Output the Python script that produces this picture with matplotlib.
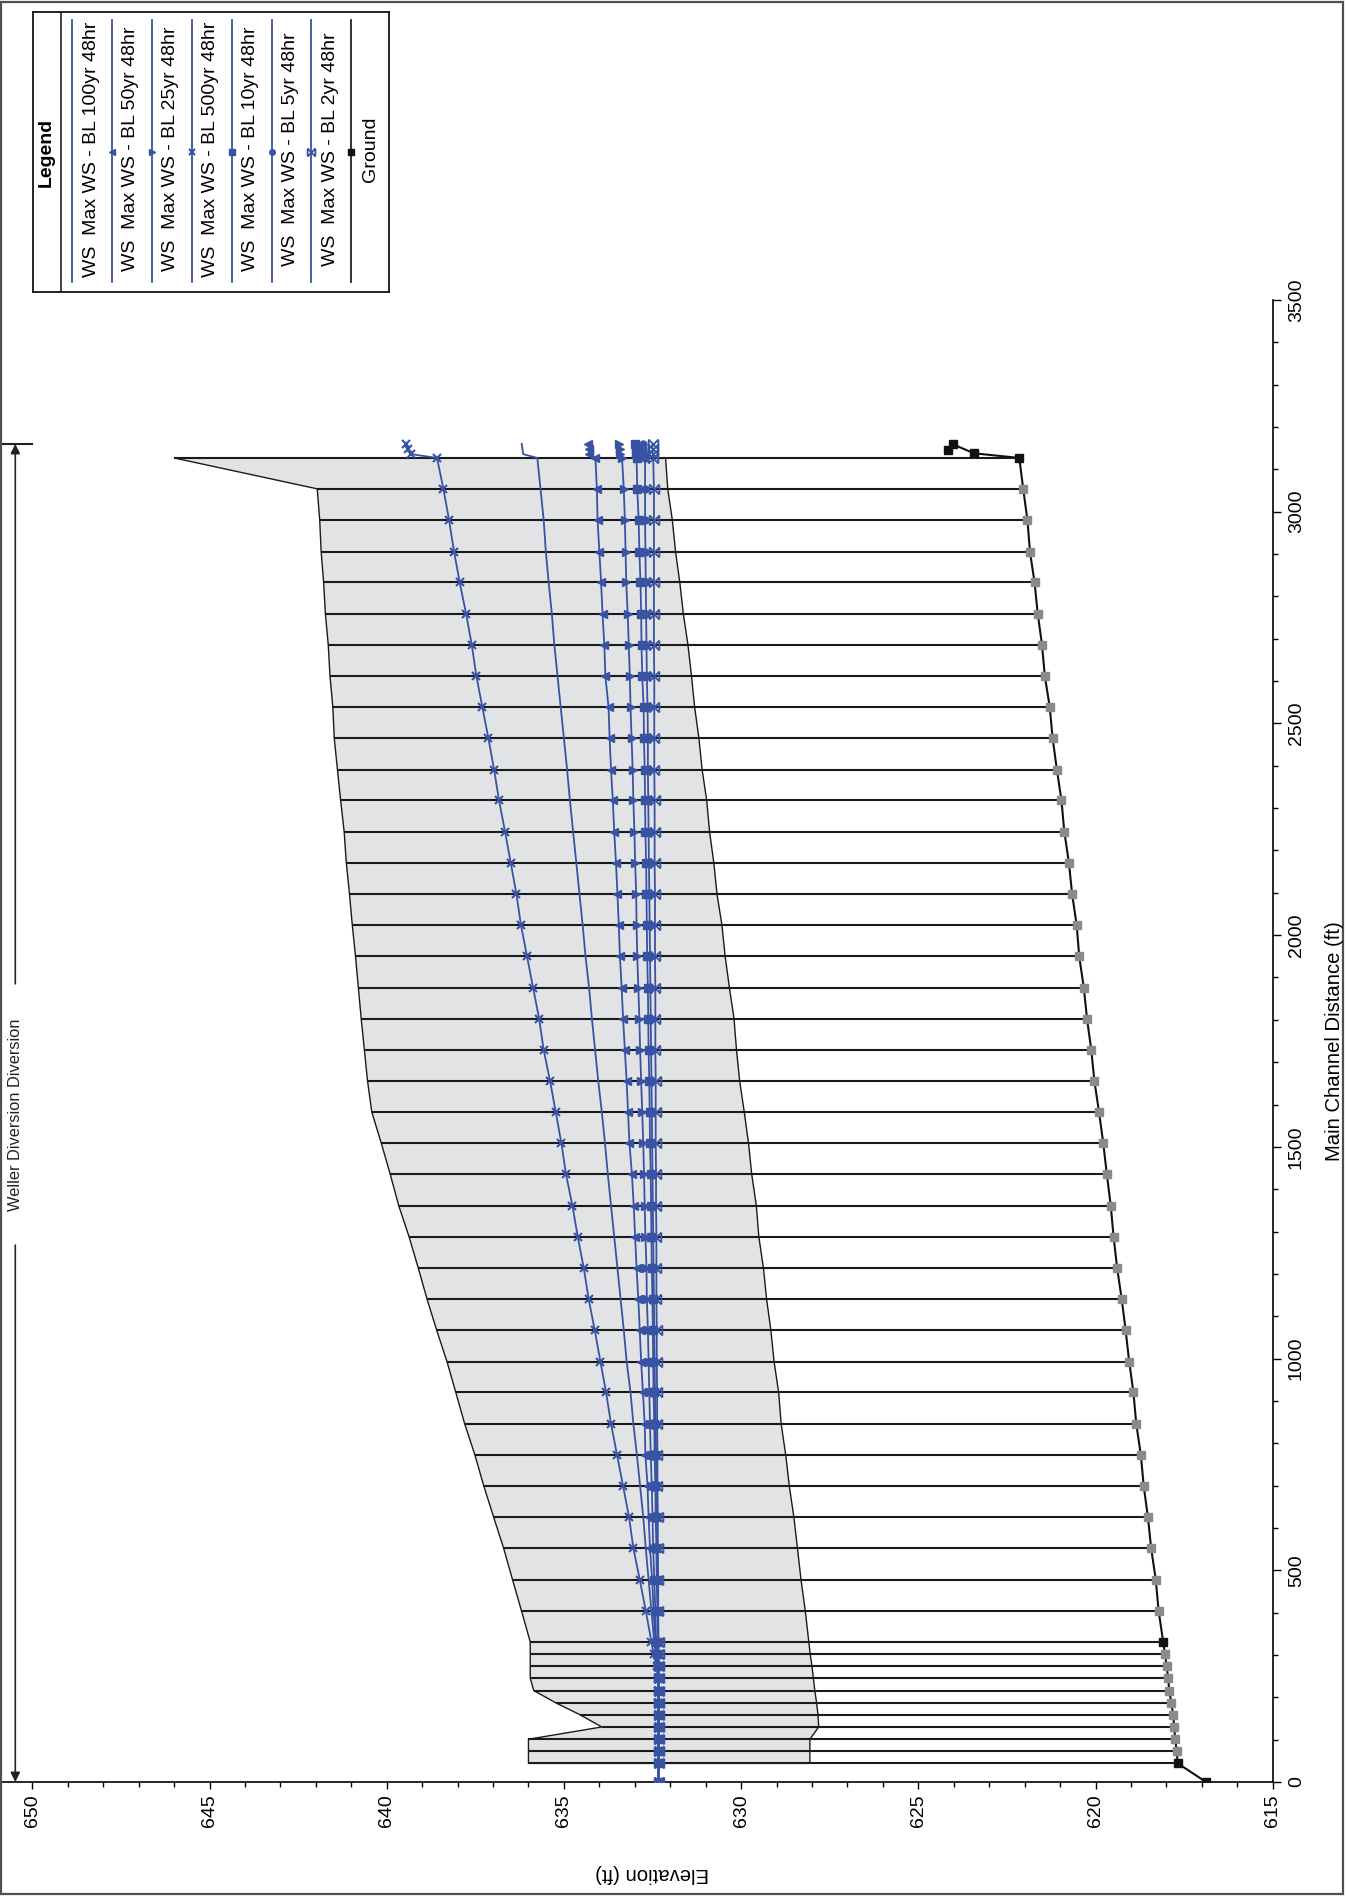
import matplotlib
matplotlib.use('Agg')
import matplotlib.pyplot as plt
from matplotlib.path import Path
from matplotlib.patches import Rectangle, Polygon
from matplotlib.ticker import MultipleLocator
import numpy as np

plt.rcParams['font.family'] = ['Liberation Sans', 'DejaVu Sans']

# ---------------- data ----------------
stations = [0, 44, 73, 101, 130, 159, 187, 216, 245, 273, 302, 331, 405, 478, 552, 625,
            699, 772, 846, 920, 993, 1067, 1140, 1214, 1288, 1361, 1435, 1508, 1582, 1655,
            1729, 1803, 1876, 1950, 2023, 2097, 2171, 2244, 2318, 2391, 2465, 2538, 2612,
            2686, 2759, 2833, 2906, 2980, 3054, 3127]
top_stations = [3136, 3148, 3160]

ground = [616.88, 617.68, 617.71, 617.75, 617.78, 617.81, 617.86, 617.92, 617.95, 617.99,
          618.04, 618.09, 618.22, 618.30, 618.43, 618.52, 618.64, 618.72, 618.85, 618.93,
          619.05, 619.15, 619.26, 619.39, 619.49, 619.57, 619.68, 619.78, 619.90, 620.03,
          620.12, 620.24, 620.33, 620.46, 620.53, 620.66, 620.75, 620.88, 620.96, 621.09,
          621.21, 621.29, 621.43, 621.51, 621.63, 621.72, 621.85, 621.92, 622.04, 622.15]
ground_top_st = [3138, 3159, 3145]
ground_top = [623.43, 624.02, 624.16]

# structure (diversion) top and bottom, stations 44 .. 3127
struct_top = [636.00, 636.00, 636.00, 633.93, 634.55, 635.23, 635.85, 635.95, 635.95, 635.95,
              635.95, 636.20, 636.45, 636.70, 636.98, 637.26, 637.51, 637.80, 638.05, 638.30,
              638.59, 638.86, 639.11, 639.37, 639.66, 639.90, 640.15, 640.42, 640.54, 640.63,
              640.72, 640.80, 640.88, 640.97, 641.05, 641.14, 641.20, 641.30, 641.39, 641.48,
              641.52, 641.60, 641.65, 641.73, 641.78, 641.85, 641.89, 641.96, 646.00]
struct_bot = [628.06, 628.06, 628.06, 627.81, 627.83, 627.87, 627.92, 627.96, 628.00, 628.05,
              628.09, 628.19, 628.31, 628.41, 628.51, 628.64, 628.74, 628.87, 628.94, 629.07,
              629.16, 629.28, 629.37, 629.50, 629.57, 629.70, 629.79, 629.91, 630.04, 630.13,
              630.20, 630.33, 630.45, 630.54, 630.68, 630.77, 630.89, 630.97, 631.10, 631.19,
              631.31, 631.40, 631.50, 631.63, 631.73, 631.85, 631.94, 632.07, 632.13]

ws_100 = [632.33, 632.33, 632.33, 632.33, 632.33, 632.33, 632.33, 632.34, 632.35, 632.37,
          632.41, 632.45, 632.53, 632.61, 632.69, 632.76, 632.85, 632.94, 633.04, 633.12,
          633.23, 633.31, 633.40, 633.49, 633.58, 633.67, 633.76, 633.84, 633.93, 634.03,
          634.12, 634.21, 634.29, 634.39, 634.47, 634.56, 634.65, 634.74, 634.83, 634.91,
          635.00, 635.09, 635.18, 635.27, 635.34, 635.43, 635.51, 635.57, 635.66, 635.75]
ws_100_top = [636.15, 636.17, 636.19]

ws_50 = [632.33, 632.33, 632.33, 632.33, 632.33, 632.33, 632.33, 632.33, 632.34, 632.36,
         632.38, 632.42, 632.47, 632.51, 632.57, 632.61, 632.64, 632.70, 632.72, 632.77,
         632.82, 632.86, 632.90, 632.95, 632.99, 633.03, 633.08, 633.15, 633.19, 633.23,
         633.28, 633.33, 633.37, 633.42, 633.45, 633.49, 633.53, 633.58, 633.62, 633.67,
         633.71, 633.74, 633.83, 633.86, 633.91, 633.95, 634.00, 634.05, 634.07, 634.11]
ws_50_top = [634.28, 634.30, 634.31]

ws_25 = [632.33, 632.33, 632.33, 632.33, 632.33, 632.33, 632.33, 632.33, 632.33, 632.35,
         632.37, 632.40, 632.42, 632.45, 632.48, 632.50, 632.52, 632.55, 632.57, 632.59,
         632.61, 632.63, 632.66, 632.67, 632.70, 632.72, 632.74, 632.76, 632.79, 632.82,
         632.85, 632.87, 632.90, 632.93, 632.95, 632.96, 632.99, 633.01, 633.04, 633.06,
         633.09, 633.12, 633.14, 633.17, 633.20, 633.24, 633.26, 633.28, 633.31, 633.36]
ws_25_top = [633.42, 633.43, 633.44]

ws_500 = [632.33, 632.33, 632.33, 632.33, 632.33, 632.33, 632.34, 632.34, 632.35, 632.38,
          632.47, 632.53, 632.69, 632.86, 633.04, 633.16, 633.33, 633.50, 633.67, 633.81,
          633.97, 634.13, 634.30, 634.44, 634.61, 634.76, 634.94, 635.07, 635.23, 635.39,
          635.57, 635.70, 635.87, 636.04, 636.21, 636.34, 636.50, 636.66, 636.83, 636.97,
          637.13, 637.30, 637.47, 637.60, 637.76, 637.94, 638.10, 638.24, 638.40, 638.58]
ws_500_top = [639.31, 639.40, 639.45]

ws_10 = [632.33, 632.33, 632.33, 632.33, 632.33, 632.33, 632.33, 632.33, 632.33, 632.33,
         632.34, 632.35, 632.36, 632.38, 632.39, 632.41, 632.42, 632.44, 632.45, 632.47,
         632.48, 632.49, 632.50, 632.52, 632.53, 632.54, 632.55, 632.57, 632.58, 632.59,
         632.61, 632.62, 632.63, 632.65, 632.66, 632.67, 632.68, 632.70, 632.71, 632.72,
         632.74, 632.75, 632.79, 632.81, 632.82, 632.84, 632.87, 632.89, 632.93, 632.95]
ws_10_top = [632.97, 632.97, 632.98]

ws_5 = [632.33, 632.33, 632.33, 632.33, 632.33, 632.33, 632.33, 632.33, 632.33, 632.33,
        632.33, 632.34, 632.35, 632.36, 632.37, 632.38, 632.39, 632.40, 632.41, 632.43,
        632.44, 632.45, 632.46, 632.47, 632.48, 632.49, 632.50, 632.51, 632.52, 632.53,
        632.54, 632.55, 632.56, 632.57, 632.58, 632.59, 632.60, 632.61, 632.62, 632.63,
        632.63, 632.64, 632.66, 632.67, 632.68, 632.69, 632.70, 632.71, 632.71, 632.71]
ws_5_top = [632.74, 632.76, 632.76]

ws_2 = [632.33, 632.33, 632.33, 632.33, 632.33, 632.33, 632.33, 632.33, 632.33, 632.33,
        632.33, 632.33, 632.34, 632.34, 632.35, 632.35, 632.36, 632.36, 632.37, 632.37,
        632.38, 632.38, 632.39, 632.39, 632.39, 632.40, 632.40, 632.41, 632.41, 632.41,
        632.42, 632.42, 632.42, 632.43, 632.43, 632.43, 632.44, 632.44, 632.44, 632.45,
        632.45, 632.45, 632.45, 632.46, 632.46, 632.46, 632.46, 632.46, 632.46, 632.48]
ws_2_top = [632.49, 632.50, 632.50]

series_labels = ["WS  Max WS - BL 100yr 48hr", "WS  Max WS - BL 50yr 48hr",
                 "WS  Max WS - BL 25yr 48hr", "WS  Max WS - BL 500yr 48hr",
                 "WS  Max WS - BL 10yr 48hr", "WS  Max WS - BL 5yr 48hr",
                 "WS  Max WS - BL 2yr 48hr", "Ground"]
reach_label = "Weller Diversion Diversion"
reach_start, reach_end = 0, 3160

# ---------------- styles ----------------
BLUE = '#3953A4'
GRAYFILL = '#E2E3E5'
W, H, DPI = 1347, 1902, 100
PX_PER_FT = 35.44

box_marker = Path([(-0.5, -0.5), (-0.5, 0.5), (0.5, -0.5), (0.5, 0.5),
                   (-0.5, -0.5), (0.5, 0.5), (-0.5, 0.5), (0.5, -0.5)],
                  [Path.MOVETO, Path.LINETO, Path.MOVETO, Path.LINETO,
                   Path.MOVETO, Path.LINETO, Path.MOVETO, Path.LINETO])

styles = [dict(marker=None),
          dict(marker='<', ms=6),
          dict(marker='>', ms=6),
          dict(marker='x', ms=6, mew=1.5),
          dict(marker='s', ms=6),
          dict(marker='o', ms=5),
          dict(marker=box_marker, ms=7, mew=1.3)]

fig = plt.figure(figsize=(W / DPI, H / DPI), dpi=DPI)


def fx(px):
    return px / W


def fy(py):
    return 1 - py / H


ax = fig.add_axes([fx(1), fy(1782), (1272.7 - 1) / W, (1782 - 300) / H])
ax.set_xlim(650 + 31.3 / PX_PER_FT, 615)
ax.set_ylim(0, 3500)

st = np.array(stations, dtype=float)
st_s = st[1:]

# structure fill
poly_xy = list(zip(struct_top, st_s)) + list(zip(struct_bot[::-1], st_s[::-1]))
ax.add_patch(Polygon(poly_xy, closed=True, facecolor=GRAYFILL, edgecolor='#1a1a1a',
                     lw=1.0, zorder=1))
# station lines from structure top to ground
ax.hlines(st_s, struct_top, ground[1:], colors='#1a1a1a', lw=1.5, zorder=2)

# water surfaces
all_ws = [(ws_100, ws_100_top), (ws_50, ws_50_top), (ws_25, ws_25_top),
          (ws_500, ws_500_top), (ws_10, ws_10_top), (ws_5, ws_5_top), (ws_2, ws_2_top)]
for (vals, tops), sty in zip(all_ws, styles):
    ax.plot(list(vals) + list(tops), list(stations) + list(top_stations), color=BLUE,
            lw=1.3, mfc=BLUE, mec=BLUE, zorder=4, **sty)

# ground
g_st = list(stations) + list(ground_top_st)
g_el = list(ground) + list(ground_top)
ax.plot(g_el, g_st, color='#111111', lw=1.5, zorder=3)
black = [(s in (0, 44, 331)) or s >= 3127 for s in g_st]
gx = np.array(g_el); gs = np.array(g_st); bm = np.array(black)
ax.plot(gx[~bm], gs[~bm], ls='none', marker='s', ms=5.5, color='#8a8a8a', zorder=5)
ax.plot(gx[bm], gs[bm], ls='none', marker='s', ms=5.5, color='#111111', zorder=5)

# reach label with arrows
xr = 650 + (32.3 - 15.3) / PX_PER_FT
ax.plot([650 + 31.3 / PX_PER_FT, 650.0], [reach_end, reach_end], color='#222222', lw=1.5,
        clip_on=False, zorder=3)
ax.annotate('', xy=(xr, reach_end), xytext=(xr, 1885),
            arrowprops=dict(arrowstyle='-|>', lw=1.2, color='#222222', mutation_scale=14,
                            shrinkA=0, shrinkB=0), annotation_clip=False)
ax.annotate('', xy=(xr, reach_start), xytext=(xr, 1268),
            arrowprops=dict(arrowstyle='-|>', lw=1.2, color='#222222', mutation_scale=14,
                            shrinkA=0, shrinkB=0), annotation_clip=False)
ax.text(xr, (reach_start + reach_end) / 2 - 3, reach_label, rotation=90, ha='center',
        va='center', fontsize=11.8, color='#222222')

# axes styling
for sp in ('top', 'left'):
    ax.spines[sp].set_visible(False)
for sp in ('bottom', 'right'):
    ax.spines[sp].set_linewidth(1.2)
ax.xaxis.set_major_locator(MultipleLocator(5))
ax.xaxis.set_minor_locator(MultipleLocator(1))
ax.yaxis.set_major_locator(MultipleLocator(500))
ax.yaxis.set_minor_locator(MultipleLocator(100))
ax.set_xticks(np.arange(615, 651, 5))
ax.yaxis.tick_right()
ax.tick_params(axis='x', which='major', direction='out', length=5, width=1, labelsize=14,
               labelrotation=90, pad=4)
ax.tick_params(axis='x', which='minor', direction='out', length=3.5, width=1)
ax.tick_params(axis='y', which='major', direction='out', length=6, width=1, labelsize=14,
               labelrotation=90, pad=5)
ax.tick_params(axis='y', which='minor', direction='out', length=3.6, width=1)
plt.setp(ax.get_yticklabels(), va='center')

fig.text(fx(1335), fy(1041), "Main Channel Distance (ft)", rotation=90, ha='center',
         va='center', fontsize=14.6)
fig.text(fx(652), fy(1873), "Elevation (ft)", rotation=180, ha='center', va='center',
         fontsize=14.6)

# legend (drawn in pixel coordinates)
lax = fig.add_axes([fx(33), fy(292), (389 - 33) / W, (292 - 12) / H])
lax.set_xlim(33, 389)
lax.set_ylim(292, 12)
lax.set_xticks([]); lax.set_yticks([])
for sp in lax.spines.values():
    sp.set_linewidth(1.2)
lax.axvline(61, color='#222222', lw=1.2)
lax.text(46, 152, "Legend", rotation=90, ha='center', va='center', fontsize=14,
         fontweight='bold')
for i, lab in enumerate(series_labels):
    lx = 72 + 39.9 * i
    if i < 7:
        lax.plot([lx, lx], [20, 282], color=BLUE, lw=1.3)
        sty = styles[i]
        if sty['marker'] is not None:
            lax.plot([lx], [152], color=BLUE, ls='none', mfc=BLUE, mec=BLUE,
                     **{k: (v * 0.8 if k == 'ms' else v) for k, v in sty.items()})
    else:
        lax.plot([lx, lx], [20, 282], color='#222222', lw=1.3)
        lax.plot([lx], [152], color='#111111', marker='s', ms=5)
    lax.text(lx + 19, 149, lab, rotation=90, ha='center', va='center', fontsize=14)

# outer frame
fig.patches.append(Rectangle((fx(1), fy(1894)), (1343 - 1) / W, (1894 - 2) / H,
                             transform=fig.transFigure, fill=False, edgecolor='#505050',
                             lw=1.6))

fig.savefig('out.png', dpi=DPI)
